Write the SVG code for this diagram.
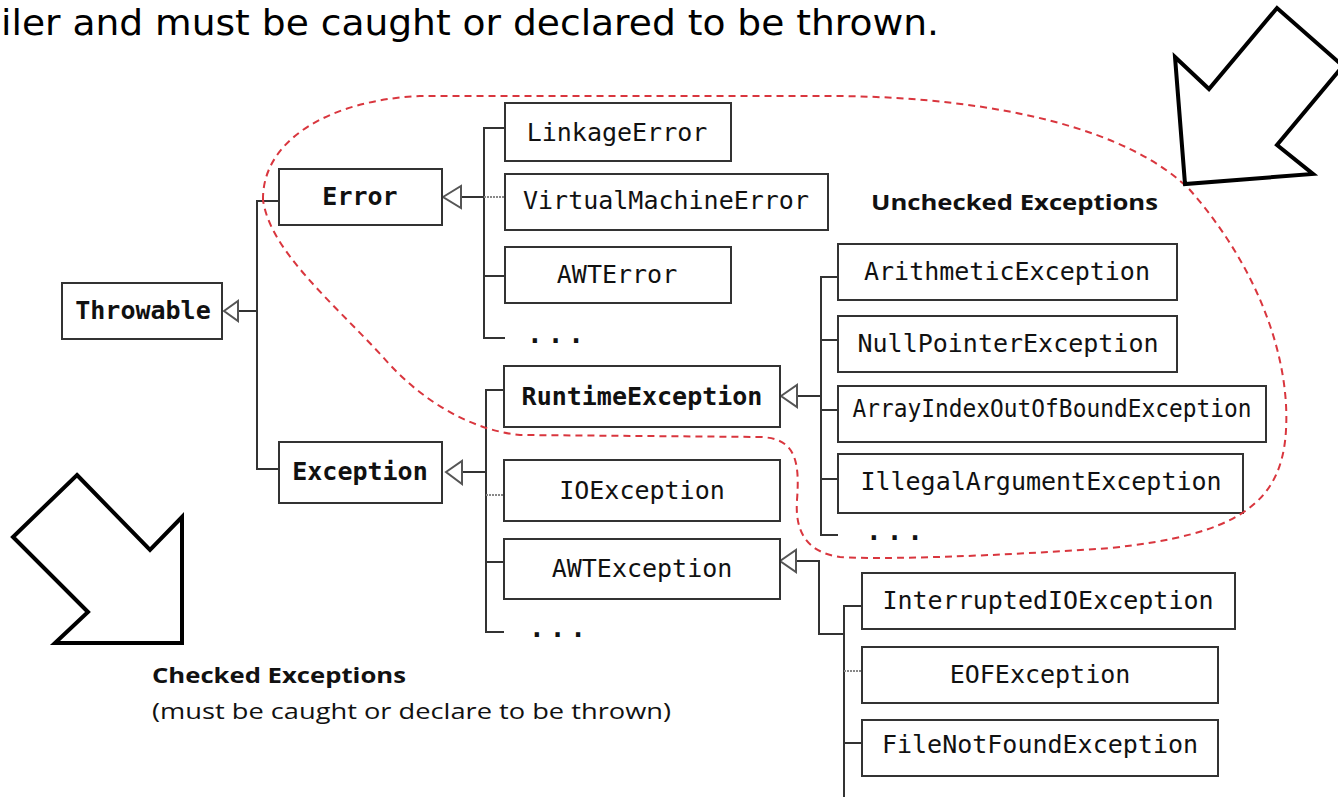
<svg xmlns="http://www.w3.org/2000/svg" width="1338" height="797" viewBox="0 0 1338 797">
<style>
.box{fill:#fff;stroke:#333;stroke-width:2}
.t{font-family:"DejaVu Sans Mono","Liberation Mono",monospace;font-size:25px;fill:#111;text-anchor:middle}
.b{font-weight:bold}
.ln{fill:none;stroke:#333;stroke-width:2}
.dl{fill:none;stroke:#888;stroke-width:2;stroke-dasharray:2 1}
.tri{fill:#fff;stroke:#555;stroke-width:2}
.dots{font-family:"DejaVu Sans Mono","Liberation Mono",monospace;font-size:26px;font-weight:bold;fill:#111;letter-spacing:5px}
.lbl{font-family:"Open Sans","Liberation Sans",sans-serif;font-size:22px;fill:#111}
.big{fill:#fff;stroke:#000;stroke-width:4;stroke-linejoin:miter}
</style>
<rect width="1338" height="797" fill="#fff"/>
<text x="1" y="35" font-family="'DejaVu Sans','Liberation Sans',sans-serif" font-size="36" fill="#000" textLength="938" lengthAdjust="spacingAndGlyphs">iler and must be caught or declared to be thrown.</text>

<g id="connectors">
  <polyline class="ln" points="238,311 257,311"/>
  <polyline class="ln" points="279,201 257,201 257,469 279,469"/>
  <polyline class="ln" points="461,197 484,197"/>
  <polyline class="ln" points="505,128 484,128 484,338 505,338"/>
  <line class="dl" x1="484" y1="197" x2="505" y2="197"/>
  <line class="ln" x1="484" y1="276" x2="505" y2="276"/>
  <polyline class="ln" points="462,472 486,472"/>
  <polyline class="ln" points="504,390 486,390 486,632 504,632"/>
  <line class="dl" x1="486" y1="495" x2="504" y2="495"/>
  <line class="ln" x1="486" y1="562" x2="504" y2="562"/>
  <polyline class="ln" points="797,396 821,396"/>
  <polyline class="ln" points="838,277 821,277 821,535 838,535"/>
  <line class="ln" x1="821" y1="340" x2="838" y2="340"/>
  <line class="ln" x1="821" y1="410" x2="838" y2="410"/>
  <line class="ln" x1="821" y1="479" x2="838" y2="479"/>
  <polyline class="ln" points="796,561 819,561 819,634 844,634"/>
  <polyline class="ln" points="862,606 844,606 844,797"/>
  <line class="dl" x1="844" y1="671" x2="862" y2="671"/>
  <line class="ln" x1="844" y1="743" x2="862" y2="743"/>
  <polygon class="tri" points="224,311 238,301 238,321"/>
  <polygon class="tri" points="443,197 461,186 461,208"/>
  <polygon class="tri" points="446,472 462,461 462,484"/>
  <polygon class="tri" points="781,396 797,385 797,407"/>
  <polygon class="tri" points="780,561 796,550 796,572"/>
</g>

<g id="Throwable"><rect class="box" x="62" y="283" width="160" height="56"/><text class="t b" x="143" y="319">Throwable</text></g>
<g id="Error"><rect class="box" x="279" y="169" width="163" height="56"/><text class="t b" x="360" y="205">Error</text></g>
<g id="LinkageError"><rect class="box" x="505" y="103" width="226" height="58"/><text class="t" x="617" y="141">LinkageError</text></g>
<g id="VirtualMachineError"><rect class="box" x="505" y="174" width="323" height="56"/><text class="t" x="666" y="209">VirtualMachineError</text></g>
<g id="AWTError"><rect class="box" x="505" y="247" width="226" height="56"/><text class="t" x="617" y="283">AWTError</text></g>
<g id="ErrorMore"><text class="dots" x="527" y="343">...</text></g>
<g id="Exception"><rect class="box" x="279" y="442" width="163" height="61"/><text class="t b" x="360" y="480">Exception</text></g>
<g id="RuntimeException"><rect class="box" x="504" y="366" width="276" height="61"/><text class="t b" x="642" y="405">RuntimeException</text></g>
<g id="IOException"><rect class="box" x="504" y="460" width="276" height="61"/><text class="t" x="642" y="499">IOException</text></g>
<g id="AWTException"><rect class="box" x="504" y="539" width="276" height="60"/><text class="t" x="642" y="577">AWTException</text></g>
<g id="ExceptionMore"><text class="dots" x="529" y="637">...</text></g>
<g id="ArithmeticException"><rect class="box" x="838" y="244" width="339" height="56"/><text class="t" x="1007" y="280">ArithmeticException</text></g>
<g id="NullPointerException"><rect class="box" x="838" y="316" width="339" height="56"/><text class="t" x="1008" y="352">NullPointerException</text></g>
<g id="ArrayIndexOutOfBoundException"><rect class="box" x="838" y="386" width="428" height="56"/><text class="t" x="1052" y="417" font-size="23" textLength="399" lengthAdjust="spacingAndGlyphs">ArrayIndexOutOfBoundException</text></g>
<g id="IllegalArgumentException"><rect class="box" x="838" y="454" width="405" height="59"/><text class="t" x="1041" y="490">IllegalArgumentException</text></g>
<g id="RuntimeMore"><text class="dots" x="866" y="540">...</text></g>
<g id="InterruptedIOException"><rect class="box" x="862" y="573" width="373" height="56"/><text class="t" x="1048" y="609">InterruptedIOException</text></g>
<g id="EOFException"><rect class="box" x="862" y="647" width="356" height="56"/><text class="t" x="1040" y="683">EOFException</text></g>
<g id="FileNotFoundException"><rect class="box" x="862" y="720" width="356" height="56"/><text class="t" x="1040" y="753">FileNotFoundException</text></g>

<path d="M 263,200 C 262,140 330,100 420,96 L 840,96 C 1000,98 1130,130 1190,190 C 1260,270 1290,360 1286,430 C 1282,505 1235,535 1110,548 C 1000,556 880,560 840,557 C 805,552 795,530 797,500 C 800,460 795,438 760,437 L 520,435 C 470,430 420,400 383,357 C 330,300 270,250 263,200 Z" fill="none" stroke="#d9363e" stroke-width="2" stroke-dasharray="7 5"/>

<polygon class="big" points="1175,57 1209,89 1277,8 1343,66 1277,145 1313,174 1185,184"/>
<polygon class="big" points="77,475 150,550 182,517 182,643 55,643 88,612 13,537"/>

<text class="lbl" x="871" y="210" font-weight="bold" textLength="287" lengthAdjust="spacingAndGlyphs">Unchecked Exceptions</text>
<text class="lbl" x="152" y="683" font-weight="bold" textLength="254" lengthAdjust="spacingAndGlyphs">Checked Exceptions</text>
<text class="lbl" x="152" y="719" textLength="519" lengthAdjust="spacingAndGlyphs">(must be caught or declare to be thrown)</text>
</svg>
